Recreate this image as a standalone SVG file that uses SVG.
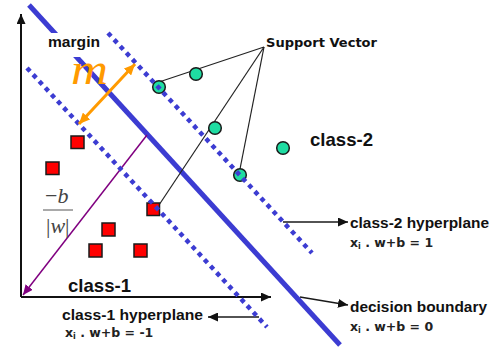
<svg xmlns="http://www.w3.org/2000/svg" width="496" height="347" viewBox="0 0 496 347">
<style>
.lbl{font-family:"Liberation Sans",Arial,sans-serif;font-weight:bold;fill:#111}
.eq{font-family:"DejaVu Sans",Verdana,sans-serif;font-weight:bold;fill:#222;font-size:12.5px}
.sv{fill:#1fdca2;stroke:#1a1a1a;stroke-width:1.5}
.sq{fill:#ff0000;stroke:#1a1a1a;stroke-width:1.5}
.dot{stroke:#3c3cd2;stroke-width:4.5;stroke-dasharray:4.5 4.5;fill:none}
.conn{stroke:#1a1a1a;stroke-width:1.5;fill:none}
.sup{stroke:#222;stroke-width:1.2;fill:none}
</style>
<defs>
<marker id="ah" markerUnits="userSpaceOnUse" markerWidth="11" markerHeight="9" refX="10" refY="4.5" orient="auto-start-reverse"><path d="M0,0 L10,4.5 L0,9 z" fill="#111"/></marker>
<marker id="oh" markerUnits="userSpaceOnUse" markerWidth="12" markerHeight="10" refX="11" refY="5" orient="auto-start-reverse"><path d="M0,0 L11,5 L0,10 z" fill="#ff9a00"/></marker>
<marker id="ph" markerUnits="userSpaceOnUse" markerWidth="11" markerHeight="9" refX="10" refY="4.5" orient="auto"><path d="M0,0 L10,4.5 L0,9 z" fill="#800080"/></marker>
</defs>
<rect width="496" height="347" fill="#fff"/>
<g id="axes">
<line x1="21" y1="297" x2="21" y2="14" stroke="#111" stroke-width="2" marker-end="url(#ah)"/>
<line x1="21" y1="297" x2="271" y2="297" stroke="#111" stroke-width="2" marker-end="url(#ah)"/>
</g>
<g id="decision-boundary">
<line x1="29" y1="5" x2="340" y2="345" stroke="#3c3cd2" stroke-width="5"/>
</g>
<g id="distance-arrow">
<line x1="147" y1="135" x2="23" y2="295" stroke="#800080" stroke-width="1.5" marker-end="url(#ph)"/>
</g>
<g id="connectors">
<line class="sup" x1="264" y1="47" x2="159" y2="82"/>
<line class="sup" x1="264" y1="47" x2="157" y2="208"/>
<line class="sup" x1="264" y1="47" x2="240" y2="169"/>
<line class="conn" x1="283" y1="222" x2="348" y2="222" marker-end="url(#ah)"/>
<line class="conn" x1="300" y1="297" x2="348" y2="305" marker-end="url(#ah)"/>
<line class="conn" x1="259" y1="317" x2="208" y2="317" marker-end="url(#ah)"/>
</g>
<g id="class2-points">
<circle class="sv" cx="159" cy="87" r="6.3"/>
<circle class="sv" cx="196" cy="74" r="6.3"/>
<circle class="sv" cx="215" cy="128" r="6.3"/>
<circle class="sv" cx="240" cy="175" r="6.3"/>
<circle class="sv" cx="283" cy="148" r="6.3"/>
</g>
<g id="class1-points">
<rect class="sq" x="71" y="136" width="13" height="12.5"/>
<rect class="sq" x="46" y="162" width="13" height="12.5"/>
<rect class="sq" x="147" y="203" width="12.5" height="12.5"/>
<rect class="sq" x="102" y="223" width="13" height="13"/>
<rect class="sq" x="89" y="244" width="13" height="13"/>
<rect class="sq" x="134" y="244" width="13" height="13"/>
</g>
<g id="hyperplanes">
<line class="dot" x1="108" y1="33" x2="312" y2="253"/>
<line class="dot" x1="27" y1="68" x2="267" y2="327"/>
</g>
<g id="margin">
<rect x="44" y="33" width="62" height="24" fill="#fff"/>
<text class="lbl" x="48" y="46.5" font-size="14" textLength="52" lengthAdjust="spacingAndGlyphs">margin</text>
<text x="71" y="84" font-family="Liberation Serif,serif" font-style="italic" font-size="44" fill="#ff9a00" textLength="37" lengthAdjust="spacingAndGlyphs">m</text>
<line x1="79" y1="124" x2="135" y2="64" stroke="#ff9a00" stroke-width="3" marker-start="url(#oh)" marker-end="url(#oh)"/>
</g>
<g id="fraction" font-family="Liberation Serif,serif" fill="#444">
<text x="45" y="203" font-size="22">−<tspan font-style="italic">b</tspan></text>
<line x1="43" y1="210" x2="73" y2="210" stroke="#555" stroke-width="1"/>
<text x="46" y="233" font-size="22">|<tspan font-style="italic">w</tspan>|</text>
</g>
<g id="labels">
<text class="lbl" x="266" y="47" font-size="12.5" textLength="111" lengthAdjust="spacingAndGlyphs" style="font-family:'DejaVu Sans',Verdana,sans-serif">Support Vector</text>
<text class="lbl" x="310" y="146" font-size="19" textLength="63" lengthAdjust="spacingAndGlyphs">class-2</text>
<text class="lbl" x="68" y="291.5" font-size="19" textLength="63" lengthAdjust="spacingAndGlyphs">class-1</text>
<text class="lbl" x="350" y="228" font-size="15" textLength="139" lengthAdjust="spacingAndGlyphs">class-2 hyperplane</text>
<text class="eq" x="350" y="246.5">x<tspan font-size="8" dy="2">i</tspan><tspan dy="-2"> . w+b = 1</tspan></text>
<text class="lbl" x="350" y="311.5" font-size="15" textLength="137" lengthAdjust="spacingAndGlyphs">decision boundary</text>
<text class="eq" x="350" y="330.5">x<tspan font-size="8" dy="2">i</tspan><tspan dy="-2"> . w+b = 0</tspan></text>
<text class="lbl" x="62" y="320" font-size="15" textLength="141" lengthAdjust="spacingAndGlyphs">class-1 hyperplane</text>
<text class="eq" x="65" y="337">x<tspan font-size="8" dy="2">i</tspan><tspan dy="-2"> . w+b = -1</tspan></text>
</g>
</svg>
